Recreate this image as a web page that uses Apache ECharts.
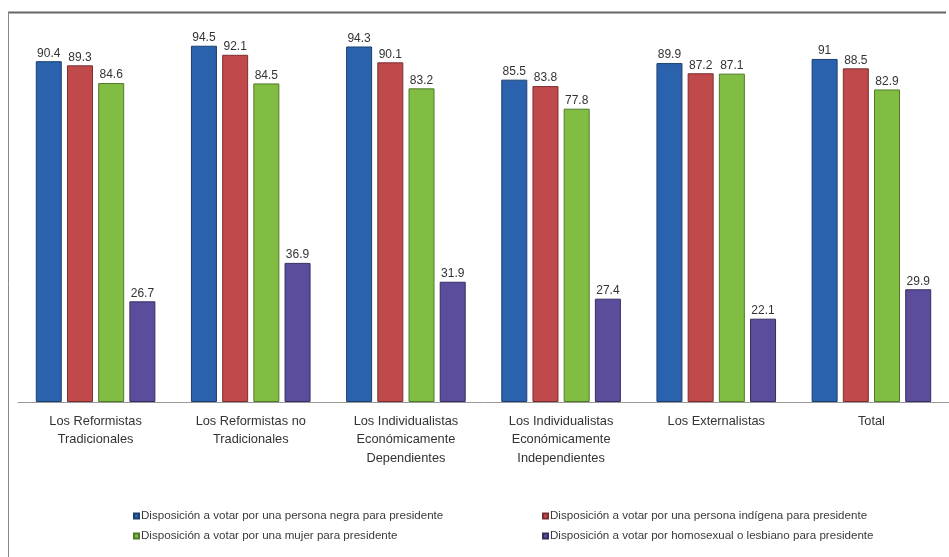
<!DOCTYPE html>
<html><head><meta charset="utf-8">
<script src="https://cdn.jsdelivr.net/npm/echarts@6/dist/echarts.min.js"></script>
<style>html,body{margin:0;padding:0;background:#fff}#c{width:949px;height:557px}</style>
</head><body><div id="c"></div>
<script>
const categories = [
  "Los Reformistas\nTradicionales",
  "Los Reformistas no\nTradicionales",
  "Los Individualistas\nEconómicamente\nDependientes",
  "Los Individualistas\nEconómicamente\nIndependientes",
  "Los Externalistas",
  "Total"
];
const seriesNames = [
  "Disposición a votar por una persona negra para presidente",
  "Disposición a votar por una persona indígena para presidente",
  "Disposición a votar por una mujer para presidente",
  "Disposición a votar por homosexual o lesbiano para presidente"
];
const negra    = [90.4, 94.5, 94.3, 85.5, 89.9, 91];
const indigena = [89.3, 92.1, 90.1, 83.8, 87.2, 88.5];
const mujer    = [84.6, 84.5, 83.2, 77.8, 87.1, 82.9];
const homo     = [26.7, 36.9, 31.9, 27.4, 22.1, 29.9];

const colors = ['#2b62ad', '#c0494c', '#80bd42', '#5b4d9c'];
const borders = ['#1c3f70', '#7e2e30', '#4f7a28', '#362d63'];
const values = [negra, indigena, mujer, homo];

const chart = echarts.init(document.getElementById('c'));
chart.setOption({
  animation: false,
  backgroundColor: '#fff',
  textStyle: { fontFamily: 'Liberation Sans, Arial, sans-serif' },
  graphic: [
    { type: 'line', shape: { x1: 8, y1: 12.5, x2: 946, y2: 12.5 }, style: { stroke: '#666', lineWidth: 2 } },
    { type: 'line', shape: { x1: 8.5, y1: 12, x2: 8.5, y2: 557 }, style: { stroke: '#888', lineWidth: 1 } }
  ],
  grid: { left: 18, width: 936, top: 25, bottom: 155 },
  legend: [
    { data: [seriesNames[0], seriesNames[2]], orient: 'vertical', left: 128, top: 505,
      itemWidth: 5, itemHeight: 5, itemGap: 8, icon: 'rect',
      textStyle: { fontSize: 11.6, color: '#3a3a3a', padding: [0,0,0,-3] } },
    { data: [seriesNames[1], seriesNames[3]], orient: 'vertical', left: 537, top: 505,
      itemWidth: 5, itemHeight: 5, itemGap: 8, icon: 'rect',
      textStyle: { fontSize: 11.6, color: '#3a3a3a', padding: [0,0,0,-3] } }
  ],
  xAxis: {
    type: 'category', data: categories,
    axisLine: { lineStyle: { color: '#999', width: 1 } },
    axisTick: { show: false },
    axisLabel: { color: '#333', fontSize: 12.8, lineHeight: 18.5, margin: 10, interval: 0 }
  },
  yAxis: { type: 'value', min: 0, max: 100, show: false, splitLine: { show: false } },
  series: values.map((v, i) => ({
    name: seriesNames[i], type: 'bar', data: v,
    barWidth: 26, barGap: '20%',
    itemStyle: { color: colors[i], borderColor: borders[i], borderWidth: 1 },
    label: { show: true, position: 'top', distance: 2, fontSize: 12, color: '#333' }
  }))
});
</script></body></html>
